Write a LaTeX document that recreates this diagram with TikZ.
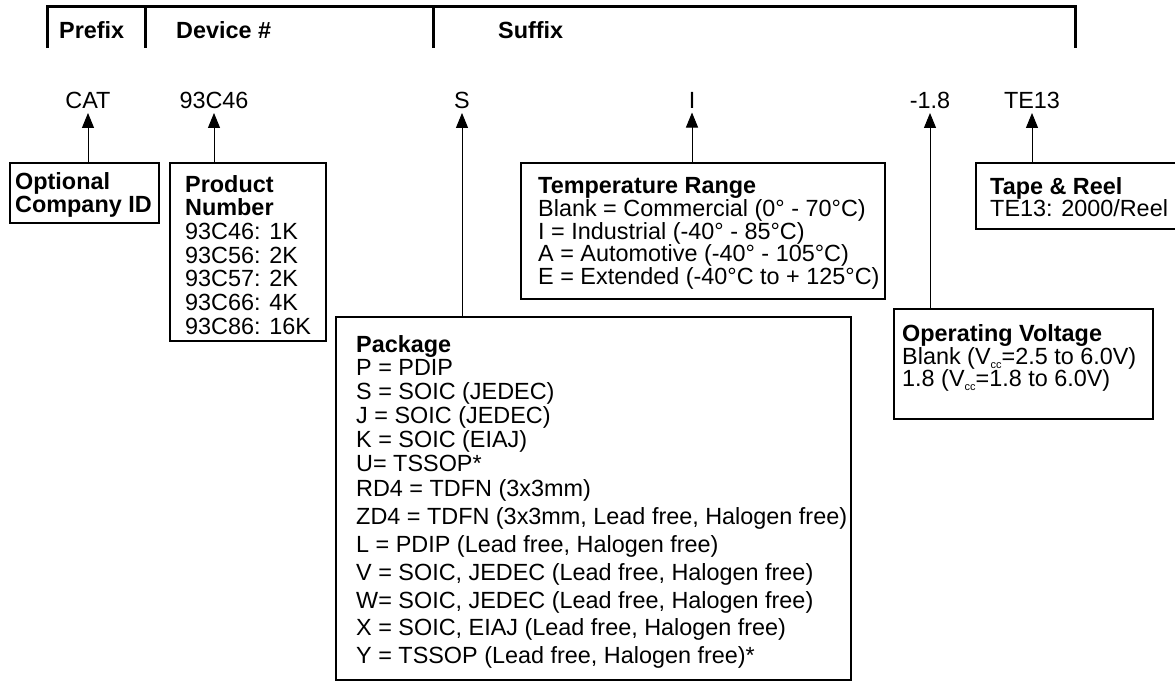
\documentclass[tikz,border=0pt]{standalone}
\usepackage{fontspec}
\setmainfont{Liberation Sans}
\usetikzlibrary{arrows.meta}

\newcommand{\vcc}{V\raisebox{-4pt}{\fontsize{11}{11}\selectfont cc}}

\tikzset{
  partbox/.style={draw, line width=1.5pt, anchor=north west, inner sep=0pt},
  boxtext/.style={anchor=north west, inner sep=0pt, align=left},
  codetext/.style={anchor=north, inner sep=0pt},
  heading/.style={anchor=north west, inner sep=0pt, font=\fontsize{23.4}{24}\selectfont\bfseries},
  pointer/.style={-{Triangle[width=12pt,length=15pt]}, line width=1pt},
  every node/.style={font=\fontsize{23.4}{23.5}\selectfont}
}

\begin{document}
\begin{tikzpicture}[x=1pt, y=-1pt]
  \useasboundingbox (0,0) rectangle (1175,681);

  % bracket over the part number
  \draw[line width=3pt, line join=miter] (47,48) -- (47,6) -- (1075,6) -- (1075,48);
  \draw[line width=3pt] (145,6) -- (145,48);
  \draw[line width=3pt] (433,6) -- (433,48);
  \node[heading] (prefix) at (59,21) {Prefix};
  \node[heading] (device) at (176,21) {Device \#};
  \node[heading] (suffix) at (498,21) {Suffix};

  % the ordering code
  \node[codetext] (cat) at (88,92) {CAT};
  \node[codetext] (dev) at (214,92) {93C46};
  \node[codetext] (pkg) at (462,92) {S};
  \node[codetext] (temp) at (692,92) {I};
  \node[codetext] (volt) at (930,92) {-1.8};
  \node[codetext] (tape) at (1032,92) {TE13};

  % boxes
  \node[partbox, minimum width=149pt, minimum height=60pt] (optbox) at (9,162) {};
  \node[boxtext, font=\fontsize{23.4}{23}\selectfont\bfseries] (opttext) at (15,172)
    {Optional\\Company ID};

  \node[partbox, minimum width=156pt, minimum height=178pt] (prodbox) at (169,162) {};
  \node[boxtext, font=\fontsize{23.4}{23.7}\selectfont] (prodtext) at (185,175)
    {\textbf{Product}\\\textbf{Number}\\93C46: 1K\\93C56: 2K\\93C57: 2K\\93C66: 4K\\93C86: 16K};

  \node[partbox, minimum width=364pt, minimum height=136pt] (tempbox) at (520,162) {};
  \node[boxtext, font=\fontsize{23.4}{21.3}\selectfont] (temptext) at (538,177)
    {\textbf{Temperature Range}\\
     Blank = Commercial (0° - 70°C)\\
     I = Industrial (-40° - 85°C)\\
     A = Automotive (-40° - 105°C)\\
     E = Extended (-40°C to + 125°C)};

  \node[partbox, minimum width=515pt, minimum height=363pt] (pkgbox) at (335,316) {};
  \node[boxtext, font=\fontsize{23.4}{23.8}\selectfont] (pkgtext) at (356,335)
    {\textbf{Package}\\
     P = PDIP\\
     S = SOIC (JEDEC)\\
     J = SOIC (JEDEC)\\
     K = SOIC (EIAJ)\\
     U= TSSOP*\\[2pt]
     RD4 = TDFN (3x3mm)\\[4pt]
     ZD4 = TDFN (3x3mm, Lead free, Halogen free)\\[4pt]
     L = PDIP (Lead free, Halogen free)\\[4pt]
     V = SOIC, JEDEC (Lead free, Halogen free)\\[4pt]
     W= SOIC, JEDEC (Lead free, Halogen free)\\[4pt]
     X = SOIC, EIAJ (Lead free, Halogen free)\\[4pt]
     Y = TSSOP (Lead free, Halogen free)*};

  \node[partbox, minimum width=210pt, minimum height=66pt] (tapebox) at (975,162) {};
  \node[boxtext, font=\fontsize{23.4}{22}\selectfont] (tapetext) at (990,177)
    {\textbf{Tape \& Reel}\\TE13: 2000/Reel};

  \node[partbox, minimum width=259pt, minimum height=110pt] (voltbox) at (893,308) {};
  \node[boxtext, font=\fontsize{23.4}{20.5}\selectfont] (volttext) at (902,324)
    {\textbf{Operating Voltage}\\
     Blank (\vcc=2.5 to 6.0V)\\
     1.8 (\vcc=1.8 to 6.0V)};

  % pointers from the boxes up to the code
  \draw[pointer] (optbox.north -| cat) -- ([yshift=-4pt]cat.south);
  \draw[pointer] (prodbox.north -| dev) -- ([yshift=-4pt]dev.south);
  \draw[pointer] (pkgbox.north -| pkg) -- ([yshift=-4pt]pkg.south);
  \draw[pointer] (tempbox.north -| temp) -- ([yshift=-4pt]temp.south);
  \draw[pointer] (voltbox.north -| volt) -- ([yshift=-4pt]volt.south);
  \draw[pointer] (tapebox.north -| tape) -- ([yshift=-4pt]tape.south);
\end{tikzpicture}
\end{document}
